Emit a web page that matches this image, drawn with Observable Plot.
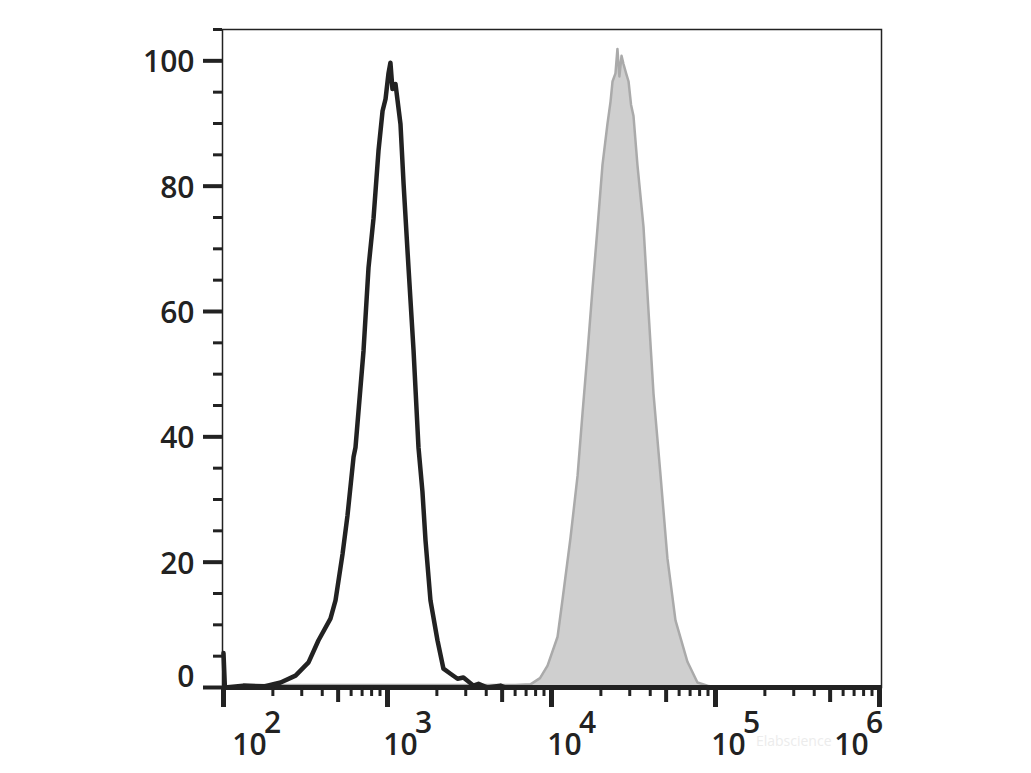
<!DOCTYPE html>
<html>
<head>
<meta charset="utf-8">
<script src="https://cdn.jsdelivr.net/npm/d3@7"></script>
<script src="https://cdn.jsdelivr.net/npm/@observablehq/plot@0.6"></script>
<style>
  html, body { margin: 0; padding: 0; background: #fff; }
  #chart svg { display: block; }
</style>
</head>
<body>
<div id="chart"></div>
<script>
// Black (control) histogram: fluorescence intensity, % of max
const blackIntensity = [100, 102, 132, 180, 223, 275, 330, 379, 449, 482, 532, 570, 621, 638, 714, 766, 822, 881, 933, 973, 1014, 1042, 1072, 1119, 1200, 1253, 1343, 1442, 1545, 1633, 1706, 1828, 2018, 2193, 2421, 2673, 2904, 3342, 3589, 4074, 4887, 5248];
const blackCount = [5.5, 0, 0.3, 0.2, 0.8, 1.9, 4.0, 7.5, 11.0, 13.9, 21.3, 27.4, 36.8, 38.3, 53.7, 67.0, 74.9, 85.6, 92.0, 93.9, 98.0, 99.7, 95.5, 96.3, 89.9, 80.4, 67.0, 53.7, 38.3, 31.3, 23.4, 13.9, 7.5, 3.0, 2.2, 1.4, 1.6, 0.3, 0.6, 0, 0.3, 0];

// Grey (stained) histogram
const greyIntensity = [178, 5012, 6026, 7447, 8511, 9462, 10890, 11670, 13060, 14420, 15450, 16600, 17780, 19100, 20460, 21930, 22910, 23550, 24550, 25240, 25940, 26730, 27480, 28510, 29510, 30550, 31620, 33420, 36390, 38990, 41880, 46240, 50930, 57020, 67450, 77620, 89330, 100000];
const greyCount = [0.4, 0.4, 0.4, 0.5, 1.5, 3.5, 8.1, 14.0, 23.9, 33.8, 43.7, 53.6, 63.6, 73.5, 83.4, 89.9, 93.5, 96.7, 98.0, 101.9, 97.5, 100.8, 99.5, 98.0, 96.7, 93.0, 91.2, 83.4, 73.5, 60.3, 46.9, 33.8, 20.6, 10.7, 4.1, 0.8, 0.3, 0];

// Axis ticks
const xDecadeExponents = [2, 3, 4, 5, 6];
const xTickBase = "10";
const yMajorTicks = [0, 20, 40, 60, 80, 100];
const yMinorTicks = [5, 10, 15, 25, 30, 35, 45, 50, 55, 65, 70, 75, 85, 90, 95, 105];
const watermark = "Elabscience";

const black = blackIntensity.map((x, i) => ({x, y: blackCount[i]}));
const grey = greyIntensity.map((x, i) => ({x, y: greyCount[i]}));

const decades = xDecadeExponents.map(e => 10 ** e);
const xMinor = [], xMid = [];
for (const d of decades.slice(0, -1)) {
  for (let k = 2; k <= 9; k++) (k === 5 ? xMid : xMinor).push(k * d);
}

const ink = "#222";
const fontSize = 30;
const fontWeight = 600;

function xLabels(exps, dxBase) {
  return [
    Plot.text(exps, {x: e => 10 ** e, text: () => xTickBase, frameAnchor: "bottom", dy: 67, dx: dxBase, textAnchor: "middle", fontSize, fontWeight, fill: ink}),
    Plot.text(exps, {x: e => 10 ** e, text: e => String(e), frameAnchor: "bottom", dy: 45, dx: dxBase + 23, textAnchor: "middle", fontSize, fontWeight, fill: ink})
  ];
}
function ticksY(values, size, width) {
  return Plot.axisY({ticks: values, tickSize: size, strokeWidth: width, stroke: ink, fill: "none", label: null, tickFormat: () => ""});
}
function ticksX(values, size, width) {
  return Plot.axisX({ticks: values, tickSize: size, strokeWidth: width, stroke: ink, fill: "none", label: null, tickFormat: () => ""});
}

const chart = Plot.plot({
  width: 1031,
  height: 773,
  marginLeft: 222,
  marginRight: 150,
  marginTop: 29,
  marginBottom: 86,
  style: {fontFamily: "'Open Sans', 'Noto Sans', sans-serif", background: "#fff"},
  x: {type: "log", domain: [100, 1e6], insetLeft: 1, insetRight: 2},
  y: {domain: [0, 105]},
  marks: [
    Plot.text([watermark], {frameAnchor: "bottom-right", dx: -50, dy: 58, textAnchor: "end", fontSize: 14, fill: "#ececec"}),
    Plot.areaY(grey, {x: "x", y: "y", fill: "#cfcfcf"}),
    Plot.lineY(grey, {x: "x", y: "y", stroke: "#aaaaaa", strokeWidth: 2.5}),
    Plot.lineY(black, {x: "x", y: "y", stroke: ink, strokeWidth: 4.5, strokeLinejoin: "round"}),
    Plot.frame({stroke: ink, strokeWidth: 1.5}),
    Plot.ruleY([0], {stroke: ink, strokeWidth: 5}),
    ticksY(yMajorTicks, 19, 4),
    ticksY(yMinorTicks, 9, 3),
    Plot.text(yMajorTicks.filter(v => v !== 0), {y: d => d, text: d => String(d), frameAnchor: "left", dx: -28, dy: 2, textAnchor: "end", fontSize, fontWeight, fill: ink}),
    Plot.text(yMajorTicks.filter(v => v === 0), {y: d => d, text: d => String(d), frameAnchor: "left", dx: -28, dy: -10, textAnchor: "end", fontSize, fontWeight, fill: ink}),
    ticksX(decades, 20, 5),
    ticksX(xMid, 15, 4),
    ticksX(xMinor, 9, 3),
    ...xLabels(xDecadeExponents.slice(0, 1), 26),
    ...xLabels(xDecadeExponents.slice(1, -1), 13),
    ...xLabels(xDecadeExponents.slice(-1), -28)
  ]
});
document.getElementById("chart").appendChild(chart);
</script>
</body>
</html>
